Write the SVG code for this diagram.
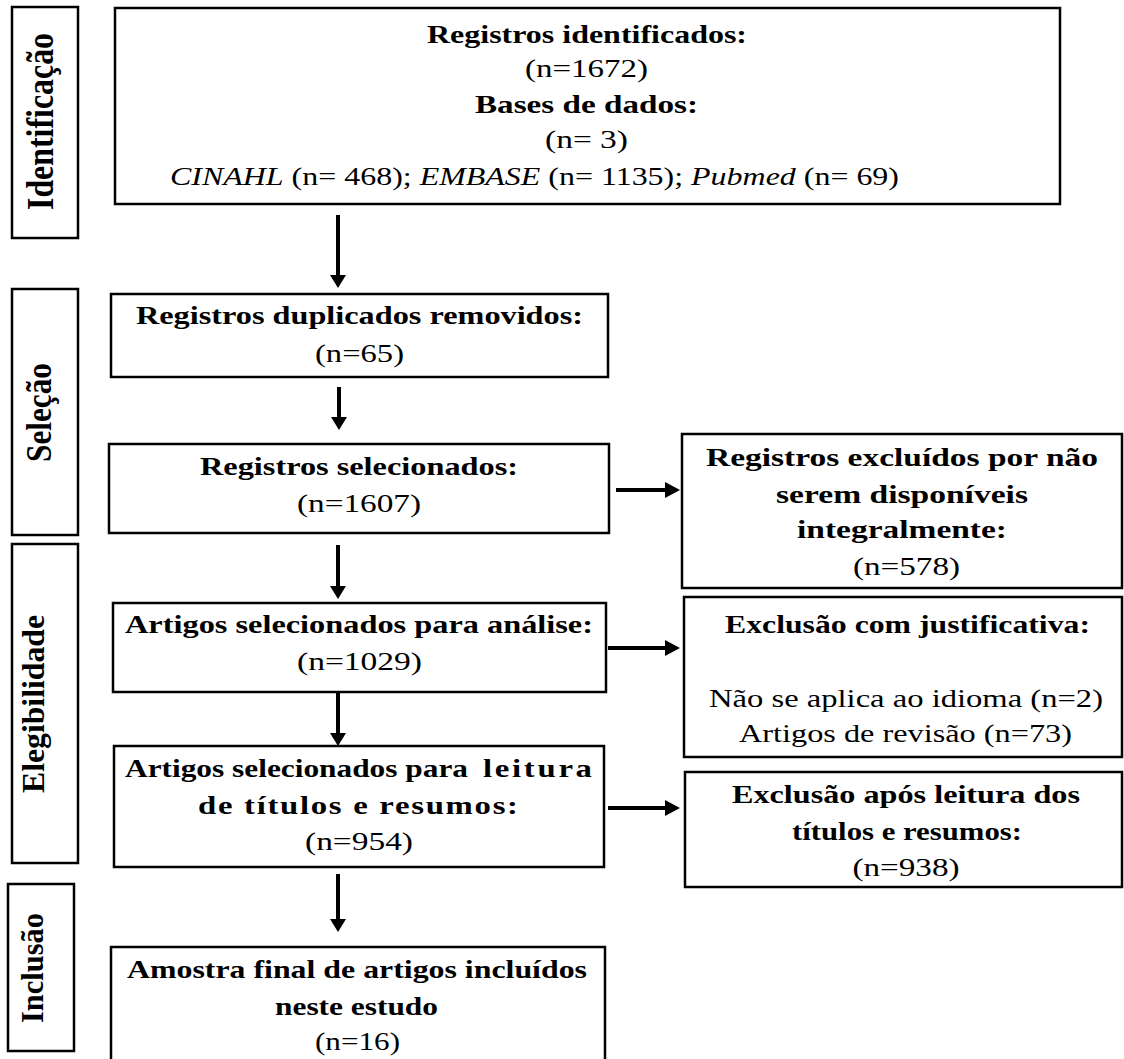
<svg xmlns="http://www.w3.org/2000/svg" width="1124" height="1059" viewBox="0 0 1124 1059">
<style>
  .box { fill: #fff; stroke: #000; stroke-width: 2.5; }
  text { font-family: "Liberation Serif", "Times New Roman", serif; font-size: 26px; fill: #000; }
  .b { font-weight: bold; }
  .c { text-anchor: middle; }
  .side { font-weight: bold; text-anchor: middle; }
  .it { font-style: italic; }
  .shaft { stroke: #000; stroke-width: 4; fill: none; }
  .head { fill: #000; }
</style>
<rect width="1124" height="1059" fill="#fff"/>

<!-- Side labels -->
<g id="side-identificacao">
  <rect class="box" x="12" y="7" width="66" height="231"/>
  <text class="side" style="font-size:38px" transform="translate(53 121.5) rotate(-90)" textLength="177" lengthAdjust="spacingAndGlyphs">Identificação</text>
</g>
<g id="side-selecao">
  <rect class="box" x="12" y="289" width="66" height="246"/>
  <text class="side" style="font-size:36px" transform="translate(51 412.5) rotate(-90)" textLength="99" lengthAdjust="spacingAndGlyphs">Seleção</text>
</g>
<g id="side-elegibilidade">
  <rect class="box" x="12" y="544" width="66" height="319"/>
  <text class="side" style="font-size:32px" transform="translate(44 704) rotate(-90)" textLength="178" lengthAdjust="spacingAndGlyphs">Elegibilidade</text>
</g>
<g id="side-inclusao">
  <rect class="box" x="8" y="884" width="66" height="167"/>
  <text class="side" style="font-size:32px" transform="translate(43 968) rotate(-90)" textLength="110" lengthAdjust="spacingAndGlyphs">Inclusão</text>
</g>

<!-- Main column -->
<g id="n-identificados">
  <rect class="box" x="115" y="8" width="945" height="196"/>
  <text class="b c" x="587" y="43" textLength="320" lengthAdjust="spacingAndGlyphs">Registros identificados:</text>
  <text class="c" x="586.5" y="77" textLength="123" lengthAdjust="spacingAndGlyphs">(n=1672)</text>
  <text class="b c" x="586.5" y="113" textLength="223" lengthAdjust="spacingAndGlyphs">Bases de dados:</text>
  <text class="c" x="586.5" y="148" textLength="83" lengthAdjust="spacingAndGlyphs">(n= 3)</text>
  <text x="170" y="185" textLength="729" lengthAdjust="spacingAndGlyphs"><tspan class="it">CINAHL</tspan> (n= 468); <tspan class="it">EMBASE</tspan> (n= 1135); <tspan class="it">Pubmed</tspan> (n= 69)</text>
</g>
<g id="n-duplicados">
  <rect class="box" x="111" y="294" width="497" height="83"/>
  <text class="b c" x="359.5" y="324" textLength="447" lengthAdjust="spacingAndGlyphs">Registros duplicados removidos:</text>
  <text class="c" x="359.5" y="362" textLength="89" lengthAdjust="spacingAndGlyphs">(n=65)</text>
</g>
<g id="n-selecionados">
  <rect class="box" x="109" y="444" width="500" height="89"/>
  <text class="b c" x="359" y="475" textLength="318" lengthAdjust="spacingAndGlyphs">Registros selecionados:</text>
  <text class="c" x="359" y="512" textLength="124" lengthAdjust="spacingAndGlyphs">(n=1607)</text>
</g>
<g id="n-analise">
  <rect class="box" x="113" y="603" width="493" height="89"/>
  <text class="b c" x="359" y="633" textLength="468" lengthAdjust="spacingAndGlyphs">Artigos selecionados para análise:</text>
  <text class="c" x="359.5" y="670" textLength="125" lengthAdjust="spacingAndGlyphs">(n=1029)</text>
</g>
<g id="n-leitura">
  <rect class="box" x="114" y="746" width="490" height="121"/>
  <text class="b" x="125" y="777" textLength="343" lengthAdjust="spacingAndGlyphs">Artigos selecionados para</text>
  <text class="b" transform="translate(483 777) scale(1.26 1)" textLength="86.5" lengthAdjust="spacing">leitura</text>
  <text class="b c" transform="translate(358 814) scale(1.26 1)" textLength="254" lengthAdjust="spacing">de títulos e resumos:</text>
  <text class="c" x="359" y="850" textLength="108" lengthAdjust="spacingAndGlyphs">(n=954)</text>
</g>
<g id="n-amostra">
  <rect class="box" x="111" y="947" width="494" height="130"/>
  <text class="b c" x="357" y="978" textLength="460" lengthAdjust="spacingAndGlyphs">Amostra final de artigos incluídos</text>
  <text class="b c" x="356.5" y="1015" textLength="163" lengthAdjust="spacingAndGlyphs">neste estudo</text>
  <text class="c" x="357.5" y="1050" textLength="85" lengthAdjust="spacingAndGlyphs">(n=16)</text>
</g>

<!-- Right column -->
<g id="n-excluidos">
  <rect class="box" x="682" y="434" width="440" height="154"/>
  <text class="b c" x="902" y="466" textLength="392" lengthAdjust="spacingAndGlyphs">Registros excluídos por não</text>
  <text class="b c" x="902" y="503" textLength="252" lengthAdjust="spacingAndGlyphs">serem disponíveis</text>
  <text class="b c" x="902" y="538" textLength="210" lengthAdjust="spacingAndGlyphs">integralmente:</text>
  <text class="c" x="906.5" y="575" textLength="107" lengthAdjust="spacingAndGlyphs">(n=578)</text>
</g>
<g id="n-justificativa">
  <rect class="box" x="684" y="597" width="438" height="160"/>
  <text class="b c" x="907.5" y="633" textLength="365" lengthAdjust="spacingAndGlyphs">Exclusão com justificativa:</text>
  <text class="c" x="906" y="707" textLength="394" lengthAdjust="spacingAndGlyphs">Não se aplica ao idioma (n=2)</text>
  <text class="c" x="905.5" y="742" textLength="333" lengthAdjust="spacingAndGlyphs">Artigos de revisão (n=73)</text>
</g>
<g id="n-apos-leitura">
  <rect class="box" x="685" y="772" width="437" height="115"/>
  <text class="b c" x="906" y="803" textLength="348" lengthAdjust="spacingAndGlyphs">Exclusão após leitura dos</text>
  <text class="b c" x="907" y="840" textLength="230" lengthAdjust="spacingAndGlyphs">títulos e resumos:</text>
  <text class="c" x="906" y="876" textLength="107" lengthAdjust="spacingAndGlyphs">(n=938)</text>
</g>

<!-- Connectors -->
<g id="connectors">
  <line class="shaft" x1="338" y1="215" x2="338" y2="276"/>
  <polygon class="head" points="330,275 346,275 338,288"/>
  <line class="shaft" x1="339" y1="387" x2="339" y2="418"/>
  <polygon class="head" points="331,417 347,417 339,430"/>
  <line class="shaft" x1="338" y1="545" x2="338" y2="587"/>
  <polygon class="head" points="330,586 346,586 338,599"/>
  <line class="shaft" x1="338" y1="693" x2="338" y2="734"/>
  <polygon class="head" points="330,733 346,733 338,746"/>
  <line class="shaft" x1="338" y1="874" x2="338" y2="920"/>
  <polygon class="head" points="330,919 346,919 338,932"/>

  <line class="shaft" x1="616" y1="490" x2="667" y2="490"/>
  <polygon class="head" points="665,482 665,498 680,490"/>
  <line class="shaft" x1="608" y1="648" x2="667" y2="648"/>
  <polygon class="head" points="665,640 665,656 680,648"/>
  <line class="shaft" x1="608" y1="808" x2="667" y2="808"/>
  <polygon class="head" points="665,800 665,816 680,808"/>
</g>
</svg>
